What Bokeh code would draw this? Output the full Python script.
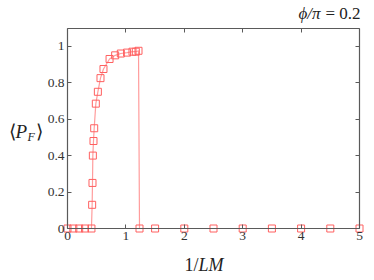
from bokeh.plotting import figure
from bokeh.models import (Range1d, LinearAxis, FixedTicker, CustomJSTickFormatter, Label)
from bokeh.embed import file_html
from bokeh.resources import INLINE

x_vals = [0, 0.1, 0.2, 0.3, 0.41, 0.422, 0.428, 0.434, 0.445, 0.457, 0.485, 0.52, 0.565,
          0.616, 0.72, 0.816, 0.913, 1.02, 1.113, 1.17, 1.216, 1.233,
          1.5, 2, 2.5, 3, 3.5, 4, 4.5, 5]
y_vals = [0, 0, 0, 0, 0, 0.13, 0.25, 0.40, 0.48, 0.55, 0.685, 0.75, 0.825,
          0.875, 0.93, 0.95, 0.96, 0.965, 0.97, 0.97, 0.975, 0,
          0, 0, 0, 0, 0, 0, 0, 0]
x_ticks = [0, 1, 2, 3, 4, 5]
y_ticks = [0, 0.2, 0.4, 0.6, 0.8, 1]
x_lim = (0, 5)
y_lim = (0, 1.1)

W, H = 374, 280
BOX_L, BOX_R, BOX_T, BOX_B = 67, 359, 27.5, 228
SERIF = "Liberation Serif"
AX = "#5a5a5a"
TXT = "#222222"

sx = (BOX_R - BOX_L) / (x_lim[1] - x_lim[0])
sy = (BOX_B - BOX_T) / (y_lim[1] - y_lim[0])
xr = Range1d(x_lim[0] - BOX_L / sx, x_lim[1] + (W - BOX_R) / sx)
yr = Range1d(y_lim[0] - (H - BOX_B) / sy, y_lim[1] + BOX_T / sy)

p = figure(width=W, height=H, output_backend="svg", toolbar_location=None,
           x_range=xr, y_range=yr, min_border=0,
           x_axis_location=None, y_axis_location=None)
p.grid.visible = False
p.outline_line_color = None
p.background_fill_color = "white"
p.border_fill_color = "white"

fmt = CustomJSTickFormatter(code="return String(Math.round(tick*10)/10);")

def mk_axis(ticks, bounds, loc, labels):
    ax = LinearAxis(ticker=FixedTicker(ticks=ticks), formatter=fmt,
                    bounds=bounds, fixed_location=loc)
    ax.axis_line_color = AX
    ax.axis_line_width = 1.2
    ax.major_tick_in = 4
    ax.major_tick_out = 0
    ax.major_tick_line_color = AX
    ax.minor_tick_line_color = None
    ax.major_label_text_font = SERIF
    ax.major_label_text_font_size = "13.5px"
    ax.major_label_text_color = "#333333" if labels else None
    ax.major_label_standoff = 3
    return ax

p.add_layout(mk_axis(x_ticks, x_lim, y_lim[0], True), "below")
p.add_layout(mk_axis(y_ticks, y_lim, x_lim[0], True), "left")
p.add_layout(mk_axis(x_ticks, x_lim, y_lim[1], False), "above")
p.add_layout(mk_axis(y_ticks, y_lim, x_lim[1], False), "right")

p.line(x_vals, y_vals, line_color="#ff9c9c", line_width=1.2)
p.scatter(x_vals, y_vals, marker="square", size=7, fill_color=None,
          line_color="#ff6060", line_width=1)

def lab(x, y, text, size, italic=False, align="left"):
    p.add_layout(Label(x=x, y=y, x_units="screen", y_units="screen", text=text,
                       text_font=SERIF, text_font_style="italic" if italic else "normal",
                       text_font_size=size, text_align=align, text_baseline="middle",
                       text_color=TXT))

# y label <P_F>
lab(8, H - 131, "⟨", "19px")
lab(15, H - 131, "P", "19px", italic=True)
lab(27, H - 136, "F", "12px", italic=True)
lab(35, H - 131, "⟩", "19px")
# x label 1/LM
lab(198, H - 264, "1/", "18px", align="right")
lab(198, H - 264, "LM", "18px", italic=True)
# title
lab(BOX_R + 1, H - 13, "= 0.2", "17px", align="right")
lab(BOX_R - 39, H - 13, "ϕ/π", "17px", italic=True, align="right")

open("out.html", "w").write(file_html(p, INLINE))
